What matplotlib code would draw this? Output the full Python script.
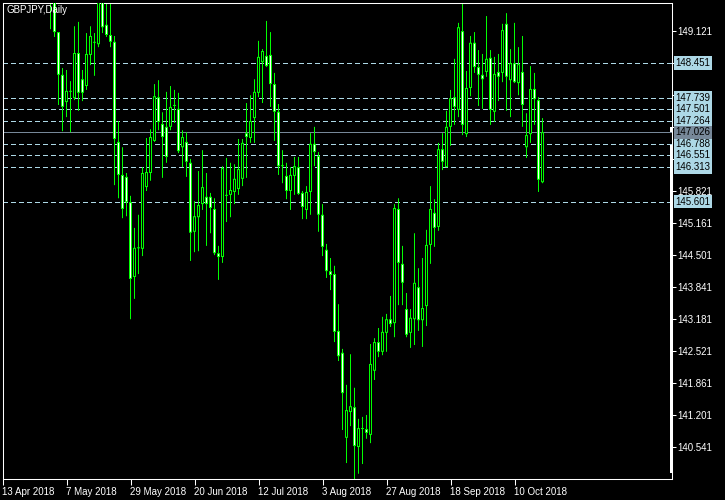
import numpy as np
import matplotlib
matplotlib.use('Agg')
import matplotlib.pyplot as plt
from matplotlib.patches import Rectangle
from matplotlib.transforms import blended_transform_factory

plt.rcParams['font.family'] = ['Liberation Sans', 'DejaVu Sans']
plt.rcParams['lines.scale_dashes'] = False

# GBPJPY daily bars, 13 Apr 2018 onwards (one bar per weekday)
opens = [152.6, 153.0, 153.3, 153.5, 153.6, 152.3, 151.0, 152.2, 152.4, 151.7,
         150.6, 150.5, 150.1, 149.8, 149.09, 148.21, 147.65, 147.88, 147.73, 148.66,
         148.12, 147.98, 148.62, 148.89, 148.84, 149.85, 149.24, 149.03, 148.89, 146.83,
         146.15, 146.11, 145.59, 144.05, 144.65, 144.63, 145.90, 146.19, 146.85, 147.75,
         147.20, 147.14, 147.14, 147.57, 147.51, 146.72, 146.83, 146.40, 144.98, 145.28,
         145.55, 145.70, 145.70, 145.45, 144.54, 144.46, 145.74, 145.74, 145.80, 145.86,
         146.07, 147.01, 146.91, 147.32, 147.84, 148.47, 148.60, 148.62, 148.02, 147.45,
         146.35, 146.13, 145.82, 146.13, 146.31, 145.78, 145.43, 145.80, 146.79, 146.54,
         145.33, 144.61, 144.17, 144.11, 142.94, 142.49, 140.74, 141.27, 141.37, 140.55,
         140.92, 140.92, 140.80, 142.12, 142.71, 142.51, 142.90, 143.18, 143.10, 145.45,
         144.32, 143.39, 142.90, 143.18, 143.84, 143.16, 143.45, 144.71, 145.37, 145.08,
         146.68, 146.31, 147.14, 147.75, 147.49, 149.11, 146.99, 147.94, 148.87, 148.37,
         148.21, 148.27, 148.56, 147.45, 148.27, 148.25, 149.26, 148.10, 148.45, 148.04,
         148.27, 146.72, 146.99, 147.92, 147.69, 146.00]
highs = [153.3, 153.6, 153.9, 154.0, 153.8, 152.5, 152.4, 152.9, 152.6, 151.9,
         150.9, 150.7, 150.4, 150.0, 149.09, 148.35, 148.31, 148.08, 149.21, 149.30,
         148.31, 149.07, 149.21, 149.07, 149.85, 150.00, 149.70, 149.70, 149.01, 147.26,
         146.72, 146.19, 145.72, 145.06, 145.33, 146.31, 146.91, 147.09, 148.02, 148.10,
         147.44, 147.86, 147.98, 147.90, 147.84, 147.07, 147.03, 146.48, 145.61, 146.23,
         146.66, 146.19, 145.78, 145.67, 144.69, 146.33, 146.50, 146.40, 146.37, 146.89,
         146.89, 147.63, 147.79, 148.12, 148.91, 148.74, 149.32, 149.09, 148.25, 147.61,
         146.66, 146.40, 146.31, 146.52, 146.52, 145.82, 145.92, 147.01, 147.14, 146.62,
         145.55, 144.73, 144.44, 144.28, 143.49, 142.57, 141.83, 142.46, 141.77, 141.13,
         141.17, 141.21, 142.67, 142.79, 143.00, 143.23, 143.29, 143.66, 145.55, 145.67,
         144.69, 143.72, 143.39, 144.95, 144.23, 144.44, 145.02, 145.92, 145.65, 146.81,
         147.01, 147.47, 147.90, 148.54, 149.28, 149.72, 148.29, 149.01, 149.09, 148.72,
         148.64, 149.42, 148.72, 148.58, 148.64, 149.26, 149.48, 148.74, 149.28, 148.78,
         149.01, 147.42, 148.39, 148.25, 147.75, 147.32]
lows = [152.3, 152.6, 153.0, 153.1, 152.1, 150.9, 150.8, 152.0, 151.5, 150.3,
        150.2, 149.9, 149.15, 148.99, 147.59, 147.05, 147.34, 147.03, 147.69, 147.47,
        147.67, 147.90, 148.41, 148.19, 148.78, 149.07, 148.99, 148.78, 145.94, 145.67,
        145.26, 145.30, 143.18, 143.60, 144.11, 144.48, 145.82, 146.03, 146.83, 147.07,
        146.09, 146.40, 147.07, 147.22, 146.60, 146.31, 146.11, 144.38, 144.56, 144.58,
        145.43, 144.69, 144.95, 144.50, 143.99, 144.34, 145.18, 145.28, 145.55, 145.74,
        145.92, 146.09, 146.81, 146.81, 147.75, 147.63, 148.37, 147.55, 146.85, 146.15,
        145.98, 145.65, 145.43, 145.74, 145.74, 145.24, 145.24, 145.33, 146.33, 144.98,
        144.48, 144.03, 143.78, 142.71, 142.32, 140.90, 140.22, 140.98, 139.87, 140.00,
        140.20, 140.72, 140.63, 141.93, 142.40, 142.44, 142.51, 143.02, 142.81, 143.47,
        143.47, 142.81, 142.59, 142.65, 142.94, 142.61, 143.04, 144.32, 144.67, 145.00,
        146.25, 146.31, 146.75, 147.18, 147.34, 146.97, 146.93, 147.77, 148.25, 147.57,
        147.51, 148.17, 147.18, 147.24, 147.67, 148.06, 147.47, 147.34, 148.04, 147.79,
        147.14, 146.50, 146.81, 147.18, 145.80, 145.98]
closes = [153.0, 153.3, 153.5, 153.6, 152.3, 151.0, 152.2, 152.4, 151.7, 150.6,
          150.5, 150.1, 149.8, 149.09, 148.21, 147.55, 147.88, 147.86, 148.66, 147.84,
          147.84, 148.64, 149.01, 148.87, 149.75, 149.19, 149.03, 148.89, 146.89, 146.15,
          145.45, 145.59, 144.01, 144.65, 144.64, 146.19, 146.21, 146.93, 147.77, 147.24,
          146.93, 146.52, 147.55, 147.57, 146.64, 146.93, 146.42, 144.96, 145.30, 145.53,
          145.90, 145.55, 145.47, 144.54, 144.46, 146.29, 145.72, 145.84, 146.07, 146.27,
          146.81, 146.93, 147.26, 147.86, 148.58, 148.70, 148.39, 148.02, 147.45, 146.33,
          146.33, 145.82, 146.15, 146.33, 145.76, 145.49, 145.80, 146.79, 146.62, 145.33,
          144.67, 144.17, 144.09, 142.92, 142.42, 141.66, 141.31, 141.39, 140.57, 140.94,
          140.92, 140.84, 142.26, 142.71, 142.51, 142.92, 143.18, 143.08, 145.47, 144.34,
          143.93, 142.86, 143.21, 143.93, 143.16, 143.41, 144.71, 145.45, 145.06, 146.68,
          146.42, 147.14, 147.73, 147.55, 149.19, 147.18, 147.94, 148.87, 148.37, 148.21,
          148.12, 148.54, 147.49, 148.23, 148.17, 149.13, 148.17, 148.45, 148.06, 148.43,
          147.59, 146.97, 147.92, 147.71, 146.05, 147.03]

date_labels = ['13 Apr 2018', '7 May 2018', '29 May 2018', '20 Jun 2018', '12 Jul 2018',
               '3 Aug 2018', '27 Aug 2018', '18 Sep 2018', '10 Oct 2018']
bars_per_label = 16
price_ticks = [149.121, 148.461, 147.801, 147.141, 146.481, 145.821, 145.161,
               144.501, 143.841, 143.181, 142.521, 141.861, 141.201, 140.541]
# tick labels that sit fully under the line-price boxes are not shown
hidden_ticks = [148.461, 147.141, 146.481]
levels = [148.451, 147.739, 147.501, 147.264, 146.788, 146.551, 146.313, 145.601]
bid = 147.026

GREEN = '#00ff00'
LEVEL_BLUE = '#add8e6'
BID_GRAY = '#778899'

fig = plt.figure(figsize=(7.25, 5), dpi=100, facecolor='black')
ax = fig.add_axes([2.5 / 725, 21 / 500, 669.5 / 725, 476.5 / 500])
ax.set_facecolor('black')
ax.set_xlim(0, 669.5 / 4)        # 4 px per daily bar
ax.set_ylim(139.892, 149.699)
px = (149.699 - 139.892) / 476.5   # one pixel in price units

x = np.arange(len(opens))
o = np.array(opens)
c = np.array(closes)
bottom = np.minimum(o, c)
body = np.abs(c - o)
fills = np.where(c < o, 'white', 'black')

# wicks, then a 3px green body, then the 1px fill inside it
ax.vlines(x, lows, highs, colors=GREEN, linewidth=0.72, snap=False, zorder=2)
ax.bar(x, np.maximum(body, px), bottom=bottom, width=0.75, color=GREEN,
       linewidth=0, snap=False, zorder=3)
inner = np.clip(body - 2 * px, 0, None)
ax.bar(x, inner, bottom=bottom + px, width=0.25, color=fills,
       linewidth=0, snap=False, zorder=4)

for lv in levels:
    ax.axhline(lv, color=LEVEL_BLUE, linewidth=0.72, dashes=(2.9, 2.2),
               antialiased=False, zorder=1)
ax.axhline(bid, color=BID_GRAY, linewidth=0.72, antialiased=False, zorder=1)

ax.set_yticks(price_ticks)
ax.set_yticklabels(['' if t in hidden_ticks else f'{t:.3f}' for t in price_ticks])
ax.yaxis.tick_right()
ax.tick_params(axis='y', direction='out', length=3, width=0.75, pad=1,
               colors='white', labelsize=7)

ax.set_xticks(np.arange(len(date_labels)) * bars_per_label)
ax.set_xticklabels(date_labels)
for lbl in ax.get_xticklabels():
    lbl.set_horizontalalignment('left')
ax.tick_params(axis='x', direction='out', length=4, width=0.75, pad=1.5,
               colors='white', labelsize=7)

for sp in ax.spines.values():
    sp.set_color('white')
    sp.set_linewidth(0.75)

# price labels for the horizontal lines
trans = blended_transform_factory(ax.transAxes, ax.transData)
for lv in levels:
    ax.text(1.0055, lv, f'{lv:.3f}', transform=trans, va='center', ha='left',
            fontsize=7, color='black', clip_on=False, zorder=5,
            bbox=dict(boxstyle='square,pad=0.18', fc=LEVEL_BLUE, ec='none'))
ax.text(1.0055, bid, f'{bid:.3f}', transform=trans, va='center', ha='left',
        fontsize=7, color='black', clip_on=False, zorder=5,
        bbox=dict(boxstyle='square,pad=0.18', fc=BID_GRAY, ec='none'))

# white bar along the right edge
ax.add_patch(Rectangle((0.9975, 0.0126), 0.0045, 0.688, transform=ax.transAxes,
                       fc='white', ec='none', clip_on=False, zorder=6))
ax.add_patch(Rectangle((0.9975, 0.728), 0.0045, 0.011, transform=ax.transAxes,
                       fc='white', ec='none', clip_on=False, zorder=6))

ax.text(0.006, 0.984, 'GBPJPY,Daily', transform=ax.transAxes, color='white',
        fontsize=7, va='center', ha='left')

fig.savefig('out.png', dpi=100, facecolor='black')
